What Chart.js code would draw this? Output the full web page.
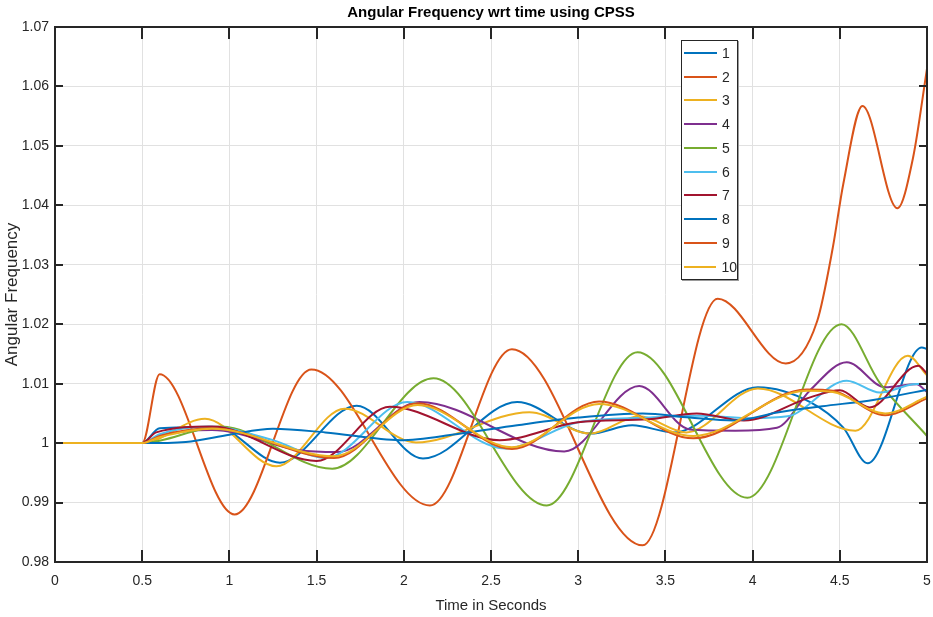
<!DOCTYPE html>
<html>
<head>
<meta charset="utf-8">
<script src="https://cdn.jsdelivr.net/npm/chart.js@4/dist/chart.umd.min.js"></script>
<style>
  html, body { margin: 0; padding: 0; background: #fff; }
  #wrap { position: relative; width: 933px; height: 617px; }
  #legend {
    position: absolute; left: 681px; top: 40px; width: 57px; height: 240px;
    box-sizing: border-box; border: 1px solid #262626; background: #fff;
    box-shadow: 1px 1px 0 #9a9a9a;
    font-family: 'Liberation Sans', Arial, sans-serif;
    font-size: 14px; color: #262626;
  }
  .row { display: flex; align-items: center; height: 23.78px; }
  .swatch { display: inline-block; width: 33px; height: 2px; margin-left: 2px; margin-right: 5px; }
</style>
</head>
<body>
<div id="wrap">
  <canvas id="c" width="933" height="617"></canvas>
  <div id="legend"></div>
</div>
<script>
// ---------------- data ----------------
const chartTitle = 'Angular Frequency wrt time using CPSS';
const xTitle = 'Time in Seconds';
const yTitle = 'Angular Frequency';
const xTicks = [0, 0.5, 1, 1.5, 2, 2.5, 3, 3.5, 4, 4.5, 5];
const yTicks = [0.98, 0.99, 1, 1.01, 1.02, 1.03, 1.04, 1.05, 1.06, 1.07];
const seriesNames = ['1', '2', '3', '4', '5', '6', '7', '8', '9', '10'];
const seriesColors = ['#0072BD', '#D95319', '#EDB120', '#7E2F8E', '#77AC30',
                      '#4DBEEE', '#A2142F', '#0072BD', '#D95319', '#EDB120'];

// series 1 (blue, oscillating)
const t1 = [0, 0.5, 0.6, 0.92, 1.29, 1.73, 2.11, 2.65, 3.07, 3.31, 3.55, 4.03, 4.33, 4.52, 4.66, 4.97, 5];
const v1 = [1, 1, 1.0025, 1.0027, 0.9967, 1.0063, 0.9974, 1.0069, 1.0016, 1.0030, 1.0018, 1.0094, 1.0069, 1.0026, 0.9966, 1.0161, 1.0158];
// series 2 (orange, large)
const t2 = [0, 0.5, 0.6, 1.03, 1.47, 2.15, 2.62, 3.37, 3.8, 4.19, 4.37, 4.46, 4.52, 4.63, 4.83, 4.92, 5];
const v2 = [1, 1, 1.0116, 0.9880, 1.0124, 0.9895, 1.0158, 0.9828, 1.0243, 1.0134, 1.0205, 1.0329, 1.0436, 1.0567, 1.0395, 1.0480, 1.0630];
// series 3 (yellow, oscillating)
const t3 = [0, 0.5, 0.86, 1.27, 1.66, 2.07, 2.72, 3.07, 3.35, 3.62, 4.03, 4.59, 4.89, 5];
const v3 = [1, 1, 1.0041, 0.9961, 1.0058, 1.0001, 1.0052, 1.0016, 1.0045, 1.0018, 1.0092, 1.0021, 1.0147, 1.0114];
// series 4 (purple)
const t4 = [0, 0.5, 0.6, 0.9, 1.4, 1.62, 2.09, 2.92, 3.35, 3.64, 3.9, 4.14, 4.33, 4.54, 4.76, 4.94, 5];
const v4 = [1, 1, 1.0012, 1.0022, 0.9988, 0.9985, 1.0069, 0.9986, 1.0096, 1.0023, 1.0021, 1.0026, 1.0089, 1.0136, 1.0094, 1.0099, 1.0086];
// series 5 (green)
const t5 = [0, 0.5, 0.95, 1.59, 2.17, 2.82, 3.34, 3.97, 4.51, 4.73, 5];
const v5 = [1, 1, 1.0028, 0.9957, 1.0109, 0.9895, 1.0153, 0.9908, 1.0200, 1.0101, 1.0012];
// series 6 (light blue)
const t6 = [0, 0.5, 0.6, 0.88, 1.25, 1.55, 2.02, 2.58, 3.0, 3.4, 3.7, 4.0, 4.2, 4.54, 4.73, 4.92, 5];
const v6 = [1, 1, 1.0015, 1.0028, 1.0005, 0.9975, 1.0069, 0.9991, 1.0035, 1.0043, 1.0046, 1.0042, 1.0045, 1.0105, 1.0085, 1.0099, 1.0100];
// series 7 (dark red)
const t7 = [0, 0.5, 0.58, 0.9, 1.5, 1.92, 2.55, 3.0, 3.4, 3.68, 3.95, 4.33, 4.5, 4.67, 4.95, 5];
const v7 = [1, 1, 1.0018, 1.0028, 0.9970, 1.0061, 1.0005, 1.0035, 1.0040, 1.0050, 1.0038, 1.0077, 1.0089, 1.0060, 1.0130, 1.0117];
// series 8 (blue, slow)
const t8 = [0, 0.5, 0.75, 1.0, 1.25, 1.55, 1.98, 2.3, 2.65, 3.0, 3.37, 3.64, 3.89, 4.15, 4.4, 4.7, 5];
const v8 = [1, 1, 1.0002, 1.0014, 1.0024, 1.0018, 1.0005, 1.0015, 1.0030, 1.0043, 1.0050, 1.0043, 1.0038, 1.0052, 1.0062, 1.0073, 1.0090];
// series 9 (orange, small)
const t9 = [0, 0.5, 0.6, 0.9, 1.6, 2.08, 2.62, 3.12, 3.66, 4.31, 4.46, 4.76, 5];
const v9 = [1, 1, 1.0012, 1.0025, 0.9975, 1.0067, 0.9990, 1.0070, 1.0008, 1.0090, 1.0088, 1.0047, 1.0075];
// series 10 (yellow, small)
const t10 = [0, 0.5, 0.6, 0.9, 1.6, 2.08, 2.62, 3.12, 3.66, 4.31, 4.46, 4.76, 5];
const v10 = [1, 1, 1.0010, 1.0024, 0.9978, 1.0064, 0.9993, 1.0066, 1.0012, 1.0088, 1.0086, 1.0050, 1.0078];

const times = [t1, t2, t3, t4, t5, t6, t7, t8, t9, t10];
const values = [v1, v2, v3, v4, v5, v6, v7, v8, v9, v10];

// ---------------- chart ----------------
const fontFam = "'Liberation Sans', Arial, sans-serif";
const axisColor = '#262626';

const datasets = seriesNames.map((name, i) => ({
  label: name,
  data: times[i].map((t, k) => ({ x: t, y: values[i][k] })),
  borderColor: seriesColors[i],
  backgroundColor: seriesColors[i],
  borderWidth: 2,
  pointRadius: 0,
  fill: false,
  cubicInterpolationMode: 'monotone',
  order: seriesNames.length - i
}));

const boxPlugin = {
  id: 'boxPlugin',
  afterDatasetsDraw(chart) {
    const { ctx, chartArea: a, scales } = chart;
    ctx.save();
    ctx.strokeStyle = axisColor;
    ctx.lineWidth = 2;
    ctx.beginPath();
    yTicks.forEach(v => {
      const y = Math.round(scales.y.getPixelForValue(v));
      ctx.moveTo(a.left, y); ctx.lineTo(a.left + 8, y);
      ctx.moveTo(a.right, y); ctx.lineTo(a.right - 8, y);
    });
    xTicks.forEach(v => {
      const x = Math.round(scales.x.getPixelForValue(v));
      ctx.moveTo(x, a.bottom); ctx.lineTo(x, a.bottom - 12);
      ctx.moveTo(x, a.top); ctx.lineTo(x, a.top + 12);
    });
    ctx.stroke();
    ctx.strokeRect(a.left, a.top, a.right - a.left, a.bottom - a.top);
    ctx.restore();
  }
};

new Chart(document.getElementById('c'), {
  type: 'line',
  data: { datasets },
  plugins: [boxPlugin],
  options: {
    responsive: false,
    animation: false,
    layout: { padding: { left: 0, right: 6, top: 0, bottom: 0 } },
    plugins: {
      legend: { display: false },
      tooltip: { enabled: false },
      title: {
        display: true, text: chartTitle, color: '#000', fullSize: false,
        font: { family: fontFam, size: 15, weight: 'bold' },
        padding: { top: 4, bottom: 5 }
      }
    },
    scales: {
      x: {
        type: 'linear', min: 0, max: 5,
        afterBuildTicks(s) { s.ticks = xTicks.map(v => ({ value: v })); },
        afterFit(s) { s.height = 55; s.paddingLeft = 0; s.paddingRight = 0; },
        ticks: {
          autoSkip: false, maxRotation: 0, padding: 11, color: axisColor,
          font: { family: fontFam, size: 14 },
          callback: v => String(+v.toFixed(1))
        },
        grid: { color: '#e1e1e1', lineWidth: 1, drawTicks: false },
        border: { display: false },
        title: {
          display: true, text: xTitle, color: axisColor,
          font: { family: fontFam, size: 15 }, padding: { top: 0, bottom: 2 }
        }
      },
      y: {
        type: 'linear', min: 0.98, max: 1.07,
        afterBuildTicks(s) { s.ticks = yTicks.map(v => ({ value: v })); },
        afterFit(s) { s.width = 55; s.paddingTop = 0; s.paddingBottom = 0; },
        ticks: {
          autoSkip: false, padding: 6, color: axisColor,
          font: { family: fontFam, size: 14 },
          callback: v => String(+v.toFixed(2))
        },
        grid: { color: '#e1e1e1', lineWidth: 1, drawTicks: false },
        border: { display: false },
        title: {
          display: true, text: yTitle, color: axisColor,
          font: { family: fontFam, size: 17 }, padding: { top: 2, bottom: 0 }
        }
      }
    }
  }
});

// HTML legend built from the series arrays
const legend = document.getElementById('legend');
seriesNames.forEach((name, i) => {
  const row = document.createElement('div');
  row.className = 'row';
  const sw = document.createElement('span');
  sw.className = 'swatch';
  sw.style.background = seriesColors[i];
  const lab = document.createElement('span');
  lab.textContent = name;
  row.appendChild(sw);
  row.appendChild(lab);
  legend.appendChild(row);
});
</script>
</body>
</html>
